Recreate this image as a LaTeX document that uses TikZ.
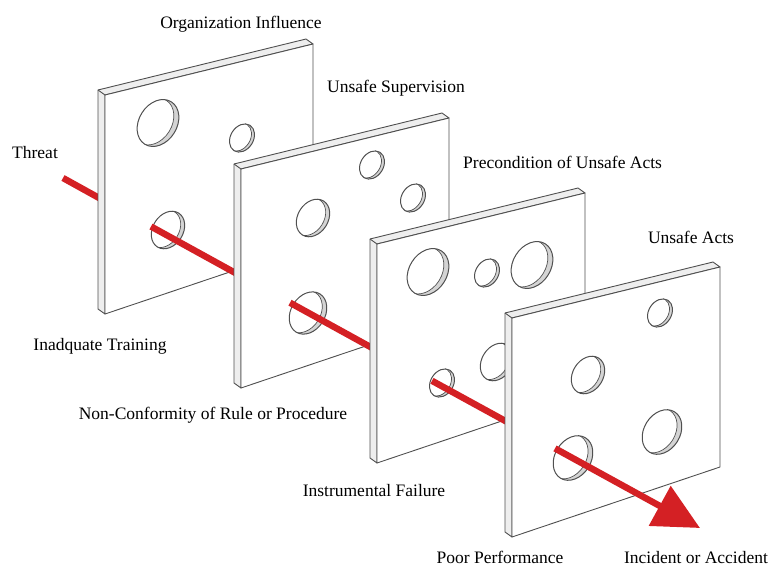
\documentclass[tikz,border=0pt]{standalone}
\usepackage{fontspec}
\setmainfont{Liberation Serif}
\usetikzlibrary{arrows.meta}

\definecolor{edgegray}{RGB}{80,80,80}
\definecolor{wallgray}{RGB}{212,212,212}
\definecolor{rimgray}{RGB}{238,238,238}
\definecolor{threatred}{RGB}{212,32,36}

\tikzset{
  layer/.style={font=\fontsize{17.5}{20}\selectfont, inner sep=0pt, anchor=base},
  slabline/.style={draw=edgegray, line width=0.9pt, line join=round},
  threatline/.style={draw=threatred, line width=6.5pt},
}

% a slab, front face top-left corner at (#1,#2)
\newcommand\slab[2]{%
  \begin{scope}[shift={(#1,#2)}]
    \filldraw[slabline, fill=rimgray] (-7,-5) -- (201,-56) -- (208,-51) -- (0,0) -- (0,219) -- (-7,214) -- cycle;
    \draw[slabline] (-7,-5) -- (0,0);
    \filldraw[slabline, fill=white] (0,0) -- (208,-51) -- (208,149) -- (0,219) -- cycle;
  \end{scope}}

% a hole through the slab: centre x, centre y, size
\newcommand\hole[3]{%
  \begin{scope}[shift={(#1,#2)}]
    \fill[wallgray, rotate=58] (0,0) ellipse [x radius=25*#3, y radius=19*#3];
    \begin{scope}
      \clip[rotate=58] (0,0) ellipse [x radius=25*#3, y radius=19*#3];
      \filldraw[fill=white, draw=edgegray, line width=0.7pt, rotate around={58:(-5*#3,-1.5*#3)}] (-5*#3,-1.5*#3) ellipse [x radius=25*#3, y radius=19*#3];
    \end{scope}
    \draw[edgegray, line width=1pt, rotate=58] (0,0) ellipse [x radius=25*#3, y radius=19*#3];
  \end{scope}}

\begin{document}
\begin{tikzpicture}[x=1pt,y=-1pt]
\useasboundingbox (0,0) rectangle (774,568);

\coordinate (start) at (63,178);
\coordinate (hid1) at (110,204);
\coordinate (in1) at (151,226.5);
\coordinate (hid2) at (250,281);
\coordinate (in2) at (290,302.7);
\coordinate (hid3) at (385,355);
\coordinate (in3) at (432,380.8);
\coordinate (hid4) at (520,429);
\coordinate (in4) at (555,448.4);
\coordinate (tip) at (700,528);

\draw[threatline] (start) -- (hid1);

\slab{105}{95}
\hole{158}{123}{1}
\hole{242}{138}{0.6}
\hole{168}{230}{0.8}
\draw[threatline] (in1) -- (hid2);

\slab{241}{169}
\hole{372}{165}{0.6}
\hole{413}{198}{0.6}
\hole{313}{218}{0.8}
\hole{308}{313}{0.9}
\draw[threatline] (in2) -- (hid3);

\slab{377}{244}
\hole{428}{272}{1}
\hole{487}{273}{0.6}
\hole{532}{265}{1}
\hole{497}{362}{0.8}
\hole{442}{383}{0.6}
\draw[threatline] (in3) -- (hid4);

\slab{512}{318}
\hole{660}{313}{0.6}
\hole{588}{375}{0.8}
\hole{662}{432}{0.95}
\hole{573}{458}{0.95}
\draw[threatline, -{Triangle[length=46pt,width=44pt]}] (in4) -- (tip);

\node[layer] (orginf) at (241,28) {Organization Influence};
\node[layer] (unsup) at (396,92) {Unsafe Supervision};
\node[layer, anchor=base west] (precond) at (463,168) {Precondition of Unsafe Acts};
\node[layer] (unacts) at (691,243) {Unsafe Acts};
\node[layer, anchor=base west] (threatlbl) at (12,158) {Threat};
\node[layer] (training) at (100,350) {Inadquate Training};
\node[layer] (nonconf) at (213,419) {Non-Conformity of Rule or Procedure};
\node[layer] (instr) at (374,496) {Instrumental Failure};
\node[layer] (poorperf) at (500,563) {Poor Performance};
\node[layer] (incident) at (696,563) {Incident or Accident};
\end{tikzpicture}
\end{document}
